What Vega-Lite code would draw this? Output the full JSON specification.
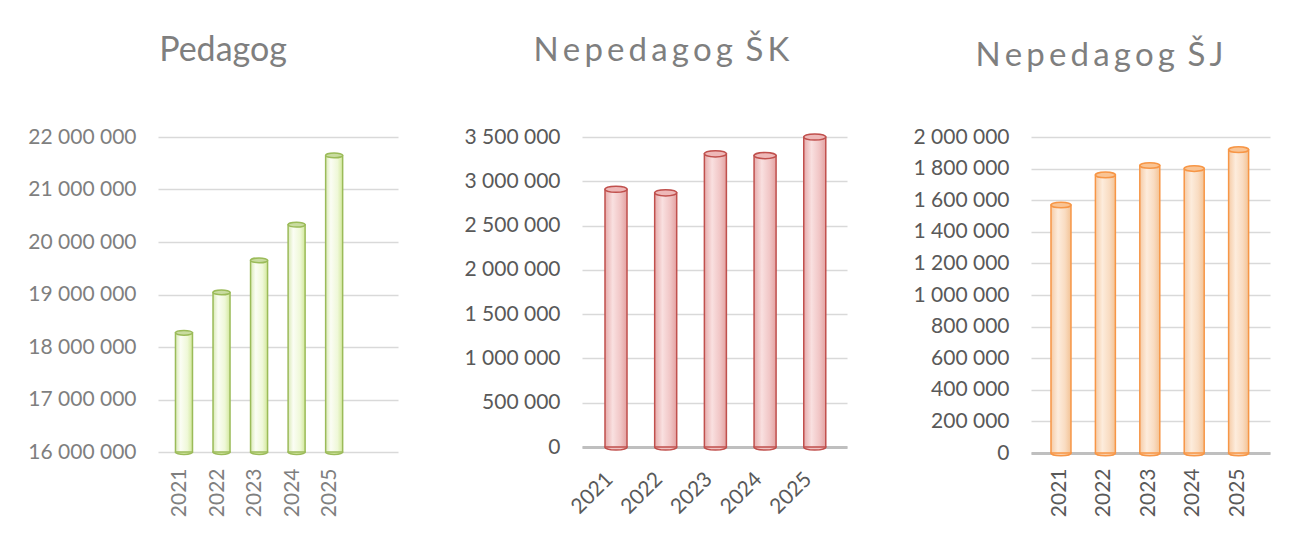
{
  "$schema": "https://vega.github.io/schema/vega-lite/v6.json",
  "background": "white",
  "padding": {"left": 27, "top": 34, "right": 5, "bottom": 5},
  "bounds": "flush",
  "spacing": 184,
  "datasets": {
    "ped": [
      {"year": "2021", "value": 18270000},
      {"year": "2022", "value": 19040000},
      {"year": "2023", "value": 19650000},
      {"year": "2024", "value": 20330000},
      {"year": "2025", "value": 21650000}
    ],
    "sk": [
      {"year": "2021", "value": 2910000},
      {"year": "2022", "value": 2870000},
      {"year": "2023", "value": 3310000},
      {"year": "2024", "value": 3290000},
      {"year": "2025", "value": 3500000}
    ],
    "sj": [
      {"year": "2021", "value": 1570000},
      {"year": "2022", "value": 1760000},
      {"year": "2023", "value": 1820000},
      {"year": "2024", "value": 1800000},
      {"year": "2025", "value": 1920000}
    ]
  },
  "hconcat": [
    {
      "width": 240,
      "height": 315,
      "title": {"text": "Pedagog", "fontSize": 34, "fontWeight": "normal", "color": "#7f7f7f", "anchor": "middle", "dx": -55, "offset": 58},
      "data": {"name": "ped"},
      "encoding": {
        "x": {"field": "year", "type": "ordinal", "scale": {"paddingInner": 0.547, "paddingOuter": 0.97, "align": 0.24},
              "axis": {"title": null, "labelAngle": -90, "labelPadding": 16, "labelOffset": -4, "labelColor": "#7f7f7f", "domain": false, "ticks": false, "labelFontSize": 21}},
        "y": {"field": "value", "type": "quantitative", "scale": {"domain": [16000000, 22000000], "zero": false, "nice": false},
              "axis": {"title": null, "values": [16000000, 17000000, 18000000, 19000000, 20000000, 21000000, 22000000], "format": ",d", "labelColor": "#7f7f7f", "labelFontSize": 21, "labelPadding": 22, "domain": false, "ticks": false, "grid": true, "gridColor": "#d9d9d9", "gridWidth": 1.5}}
      },
      "layer": [
        {"mark": {"type": "point", "shape": "M -1 0 A 1 0.28 0 1 0 1 0 A 1 0.28 0 1 0 -1 0 Z", "size": 289, "filled": true, "fill": "#d8eba8", "stroke": "#9bbb59", "strokeWidth": 1.5, "opacity": 1},
         "encoding": {"y": {"datum": 16000000, "type": "quantitative"}}},
        {"mark": {"type": "bar", "stroke": "#9bbb59", "strokeWidth": 1.5,
                  "fill": {"gradient": "linear", "x1": 0, "y1": 0, "x2": 1, "y2": 0, "stops": [
                    {"offset": 0, "color": "#d9e9b5"}, {"offset": 0.3, "color": "#fbfdf4"}, {"offset": 0.7, "color": "#eff8d8"}, {"offset": 1, "color": "#d2e89c"}]}},
         "encoding": {"y2": {"datum": 16000000}}},
        {"mark": {"type": "point", "shape": "M -1 0 A 1 0.28 0 1 0 1 0 A 1 0.28 0 1 0 -1 0 Z", "size": 289, "filled": true, "fill": "#c9dca0", "stroke": "#9bbb59", "strokeWidth": 1.5, "opacity": 1}}
      ]
    },
    {
      "width": 265,
      "height": 310,
      "title": {"text": "N\u2009e\u2009p\u2009e\u2009d\u2009a\u2009g\u2009o\u2009g \u2009Š\u2009K", "fontSize": 33, "fontWeight": "normal", "color": "#7f7f7f", "anchor": "middle", "dx": -53, "offset": 58},
      "data": {"name": "sk"},
      "encoding": {
        "x": {"field": "year", "type": "ordinal", "scale": {"paddingInner": 0.557, "paddingOuter": 0.445, "align": 0.52},
              "axis": {"title": null, "labelAngle": -45, "labelPadding": 21, "labelOffset": -14, "labelColor": "#595959", "domain": true, "domainColor": "#bfbfbf", "domainWidth": 3, "ticks": false, "labelFontSize": 21}},
        "y": {"field": "value", "type": "quantitative", "scale": {"domain": [0, 3500000], "nice": false},
              "axis": {"title": null, "values": [0, 500000, 1000000, 1500000, 2000000, 2500000, 3000000, 3500000], "format": ",d", "labelColor": "#595959", "labelFontSize": 21, "labelPadding": 22, "domain": false, "ticks": false, "grid": true, "gridColor": "#d9d9d9", "gridWidth": 1.5}}
      },
      "layer": [
        {"mark": {"type": "point", "shape": "M -1 0 A 1 0.28 0 1 0 1 0 A 1 0.28 0 1 0 -1 0 Z", "size": 484, "filled": true, "fill": "#f1c3c3", "stroke": "#c0504d", "strokeWidth": 1.5, "opacity": 1},
         "encoding": {"y": {"datum": 0, "type": "quantitative"}}},
        {"mark": {"type": "bar", "stroke": "#c0504d", "strokeWidth": 1.5,
                  "fill": {"gradient": "linear", "x1": 0, "y1": 0, "x2": 1, "y2": 0, "stops": [
                    {"offset": 0, "color": "#e6abab"}, {"offset": 0.35, "color": "#f9e0e0"}, {"offset": 0.7, "color": "#f1c6c6"}, {"offset": 1, "color": "#e3a2a2"}]}}},
        {"mark": {"type": "point", "shape": "M -1 0 A 1 0.28 0 1 0 1 0 A 1 0.28 0 1 0 -1 0 Z", "size": 484, "filled": true, "fill": "#eeb8b8", "stroke": "#c0504d", "strokeWidth": 1.5, "opacity": 1}}
      ]
    },
    {
      "width": 239,
      "height": 316,
      "title": {"text": "N\u2009e\u2009p\u2009e\u2009d\u2009a\u2009g\u2009o\u2009g \u2009Š\u2009J", "fontSize": 33, "fontWeight": "normal", "color": "#7f7f7f", "anchor": "middle", "dx": -51, "offset": 53},
      "data": {"name": "sj"},
      "encoding": {
        "x": {"field": "year", "type": "ordinal", "scale": {"paddingInner": 0.55, "paddingOuter": 0.466, "align": 0.483},
              "axis": {"title": null, "labelAngle": -90, "labelPadding": 15, "labelOffset": -1, "labelColor": "#595959", "domain": true, "domainColor": "#bfbfbf", "domainWidth": 3, "ticks": false, "labelFontSize": 21}},
        "y": {"field": "value", "type": "quantitative", "scale": {"domain": [0, 2000000], "nice": false},
              "axis": {"title": null, "values": [0, 200000, 400000, 600000, 800000, 1000000, 1200000, 1400000, 1600000, 1800000, 2000000], "format": ",d", "labelColor": "#595959", "labelFontSize": 21, "labelPadding": 22, "domain": false, "ticks": false, "grid": true, "gridColor": "#d9d9d9", "gridWidth": 1.5}}
      },
      "layer": [
        {"mark": {"type": "point", "shape": "M -1 0 A 1 0.28 0 1 0 1 0 A 1 0.28 0 1 0 -1 0 Z", "size": 400, "filled": true, "fill": "#f8d2b0", "stroke": "#f79646", "strokeWidth": 1.5, "opacity": 1},
         "encoding": {"y": {"datum": 0, "type": "quantitative"}}},
        {"mark": {"type": "bar", "stroke": "#f79646", "strokeWidth": 1.5,
                  "fill": {"gradient": "linear", "x1": 0, "y1": 0, "x2": 1, "y2": 0, "stops": [
                    {"offset": 0, "color": "#f5cba6"}, {"offset": 0.35, "color": "#fdecdc"}, {"offset": 0.7, "color": "#f9dcc2"}, {"offset": 1, "color": "#f3c395"}]}}},
        {"mark": {"type": "point", "shape": "M -1 0 A 1 0.28 0 1 0 1 0 A 1 0.28 0 1 0 -1 0 Z", "size": 400, "filled": true, "fill": "#f9c494", "stroke": "#f79646", "strokeWidth": 1.5, "opacity": 1}}
      ]
    }
  ],
  "config": {
    "font": "Lato",
    "view": {"stroke": null},
    "locale": {"number": {"decimal": ",", "thousands": " ", "grouping": [3], "currency": ["", " €"]}}
  }
}
